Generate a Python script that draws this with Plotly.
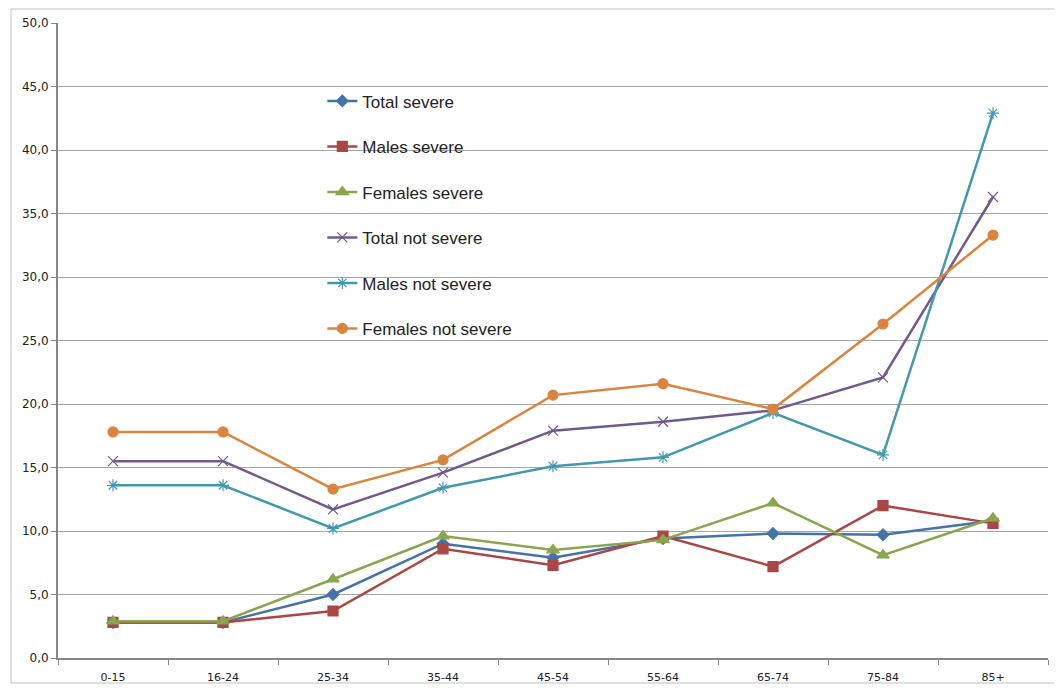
import plotly.graph_objects as go

categories = ["0-15", "16-24", "25-34", "35-44", "45-54", "55-64", "65-74", "75-84", "85+"]
total_severe = [2.8, 2.8, 5.0, 9.0, 7.9, 9.4, 9.8, 9.7, 10.8]
males_severe = [2.8, 2.8, 3.7, 8.6, 7.3, 9.6, 7.2, 12.0, 10.6]
females_severe = [2.9, 2.9, 6.2, 9.6, 8.5, 9.3, 12.2, 8.1, 11.0]
total_not_severe = [15.5, 15.5, 11.7, 14.6, 17.9, 18.6, 19.5, 22.1, 36.3]
males_not_severe = [13.6, 13.6, 10.2, 13.4, 15.1, 15.8, 19.3, 16.0, 42.9]
females_not_severe = [17.8, 17.8, 13.3, 15.6, 20.7, 21.6, 19.6, 26.3, 33.3]
y_ticks = [0, 5, 10, 15, 20, 25, 30, 35, 40, 45, 50]
y_tick_labels = ["0,0", "5,0", "10,0", "15,0", "20,0", "25,0", "30,0", "35,0", "40,0", "45,0", "50,0"]

series = [
    ("Total severe", total_severe, "#4572A7", "diamond", 9),
    ("Males severe", males_severe, "#AA4643", "square", 10),
    ("Females severe", females_severe, "#89A54E", "triangle-up", 11),
    ("Total not severe", total_not_severe, "#71588F", "x-thin-open", 10),
    ("Males not severe", males_not_severe, "#4198AF", "asterisk-open", 10),
    ("Females not severe", females_not_severe, "#DB843D", "circle", 10),
]

fig = go.Figure()
for i, (name, vals, color, sym, size) in enumerate(series):
    fig.add_trace(go.Scatter(
        x=categories, y=vals, name=name, mode="lines+markers",
        legendgroup=f"g{i}",
        line=dict(color=color, width=2.5),
        marker=dict(symbol=sym, size=size, color=color,
                    line=dict(color=color, width=1.2)),
    ))

fig.update_layout(
    width=1054, height=682,
    margin=dict(l=50, r=14, t=15, b=32),
    paper_bgcolor="white", plot_bgcolor="white",
    font=dict(family="DejaVu Sans", size=12, color="#222"),
    showlegend=True,
    legend=dict(x=0.267, y=0.905, xanchor="left", yanchor="top",
                bgcolor="rgba(0,0,0,0)", tracegroupgap=20.4,
                font=dict(family="Liberation Sans", size=17, color="#222"),
                itemwidth=30),
    xaxis=dict(type="category", showgrid=False, showline=True, linecolor="#868686",
               linewidth=2, ticks="outside", tickson="boundaries", ticklen=5,
               tickcolor="#868686", tickfont=dict(size=11), range=[-0.5, 8.5],
               ticklabelstandoff=8, automargin=False),
    yaxis=dict(range=[0, 50], tickvals=y_ticks, ticktext=y_tick_labels,
               showgrid=True, gridcolor="#A6A6A6", gridwidth=1, showline=True,
               linecolor="#868686", linewidth=2, ticks="outside", ticklen=5,
               tickcolor="#868686", zeroline=False, tickfont=dict(size=12),
               automargin=False),
    shapes=[dict(type="rect", xref="paper", yref="paper",
                 x0=-47/990, x1=1055/990 - 58/990, y0=-25/635, y1=1 + 14/635,
                 line=dict(color="#BFBFBF", width=1), fillcolor="rgba(0,0,0,0)")],
)

fig.write_html("out.html")
